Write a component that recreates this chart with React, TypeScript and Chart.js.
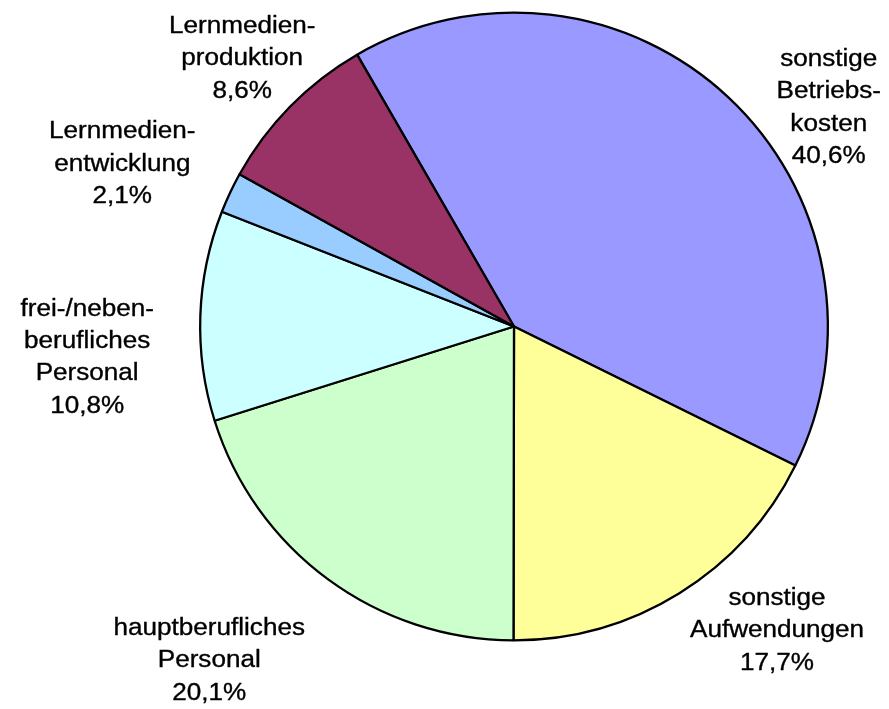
import React, { useEffect, useRef } from "react";
import { Chart, registerables } from "chart.js";

Chart.register(...registerables);

const categories: string[][] = [
  ["sonstige", "Betriebs-", "kosten"],
  ["sonstige", "Aufwendungen"],
  ["hauptberufliches", "Personal"],
  ["frei-/neben-", "berufliches", "Personal"],
  ["Lernmedien-", "entwicklung"],
  ["Lernmedien-", "produktion"],
];
const shares: number[] = [40.6, 17.7, 20.1, 10.8, 2.1, 8.6];
const sliceColors: string[] = ["#9999FF", "#FFFF99", "#CCFFCC", "#CCFFFF", "#99CCFF", "#993366"];
// label anchor (center x, first baseline y) relative to pie center, in units of radius
const labelDX: number[] = [1.003, 0.838, -0.971, -1.36, -1.248, -0.866];
const labelDY: number[] = [-0.83, 0.887, 0.983, -0.035, -0.6, -0.936];

const W = 889;
const H = 709;

export default function App() {
  const ref = useRef<HTMLCanvasElement | null>(null);
  useEffect(() => {
    if (!ref.current) return;
    const labelPlugin = {
      id: "pieLabels",
      afterDraw(chart: any) {
        const meta = chart.getDatasetMeta(0);
        const arc = meta.data[0];
        if (!arc) return;
        const cx = arc.x;
        const cy = arc.y;
        const r = arc.outerRadius;
        const ctx = chart.ctx;
        ctx.save();
        ctx.fillStyle = "#000";
        ctx.strokeStyle = "#000";
        ctx.lineWidth = 0.35;
        ctx.font = "23.5px 'Liberation Sans', Arial, sans-serif";
        ctx.textAlign = "center";
        ctx.textBaseline = "alphabetic";
        const lh = 32.4;
        categories.forEach((lines, i) => {
          const all = [...lines, shares[i].toFixed(1).replace(".", ",") + "%"];
          const x = cx + labelDX[i] * r;
          const y0 = cy + labelDY[i] * r;
          all.forEach((t, j) => {
            ctx.save();
            ctx.translate(x, y0 + j * lh);
            ctx.scale(1.11, 1);
            ctx.fillText(t, 0, 0);
            ctx.strokeText(t, 0, 0);
            ctx.restore();
          });
        });
        ctx.restore();
      },
    };
    const chart = new Chart(ref.current, {
      type: "pie",
      data: {
        labels: categories.map((c) => c.join(" ")),
        datasets: [
          {
            data: shares,
            backgroundColor: sliceColors,
            borderColor: "#000000",
            borderWidth: 2.3,
          },
        ],
      },
      options: {
        responsive: false,
        animation: false,
        rotation: -30,
        layout: { padding: { left: 199, right: 60, top: 11, bottom: 67 } },
        plugins: {
          legend: { display: false },
          tooltip: { enabled: false },
        },
      },
      plugins: [labelPlugin],
    });
    return () => chart.destroy();
  }, []);
  return (
    <div style={{ position: "fixed", left: 0, top: 0, width: W, height: H, background: "#fff" }}>
      <canvas ref={ref} width={W} height={H} />
    </div>
  );
}
